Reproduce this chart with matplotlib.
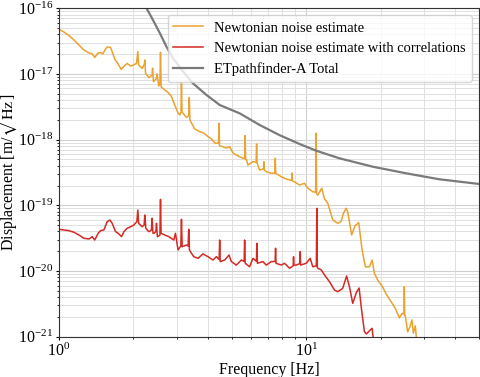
import matplotlib
matplotlib.use("Agg")
import matplotlib.pyplot as plt

plt.rcParams['font.family'] = 'serif'
plt.rcParams['font.serif'] = ['Liberation Serif', 'DejaVu Serif']
plt.rcParams['mathtext.fontset'] = 'stix'

# Newtonian noise estimate (orange): (frequency Hz, displacement m/sqrt(Hz))
nn_data = [
    (1.000, 4.74e-17), (1.047, 4.34e-17), (1.097, 3.84e-17), (1.150, 3.28e-17), (1.204, 2.75e-17),
    (1.261, 2.31e-17), (1.322, 2.08e-17), (1.359, 2.04e-17), (1.397, 1.78e-17), (1.430, 2.04e-17),
    (1.471, 2.12e-17), (1.505, 2.01e-17), (1.534, 2.31e-17), (1.567, 2.57e-17), (1.617, 2.52e-17),
    (1.641, 2.18e-17), (1.683, 1.66e-17), (1.735, 1.42e-17), (1.785, 1.17e-17), (1.830, 1.30e-17),
    (1.887, 1.44e-17), (1.948, 1.32e-17), (2.008, 1.37e-17), (2.060, 1.45e-17), (2.084, 2.18e-17),
    (2.100, 1.37e-17), (2.169, 1.21e-17), (2.215, 1.40e-17), (2.224, 1.63e-17), (2.240, 1.02e-17),
    (2.308, 8.81e-18), (2.380, 9.50e-18), (2.391, 1.22e-17), (2.410, 7.61e-18), (2.480, 8.50e-18),
    (2.493, 9.97e-18), (2.533, 6.55e-18), (2.560, 7.00e-18), (2.574, 2.12e-17), (2.590, 6.32e-18),
    (2.679, 5.69e-18), (2.762, 5.21e-18), (2.851, 4.53e-18), (2.940, 3.36e-18), (3.031, 2.54e-18),
    (3.080, 2.37e-18), (3.115, 2.60e-18), (3.129, 7.19e-18), (3.145, 2.63e-18), (3.278, 2.17e-18),
    (3.350, 2.30e-18), (3.365, 4.37e-18), (3.385, 2.00e-18), (3.427, 1.82e-18), (3.540, 1.45e-18),
    (3.709, 1.32e-18), (3.850, 1.26e-18), (4.007, 1.11e-18), (4.147, 1.02e-18), (4.264, 8.88e-19),
    (4.420, 8.80e-19), (4.438, 1.77e-18), (4.460, 8.20e-19), (4.496, 7.99e-19), (4.754, 7.45e-19),
    (4.902, 7.80e-19), (5.055, 6.25e-19), (5.217, 5.83e-19), (5.379, 5.49e-19), (5.548, 5.19e-19),
    (5.640, 5.10e-19), (5.662, 1.15e-18), (5.690, 5.00e-19), (5.741, 4.89e-19), (5.811, 4.10e-19),
    (6.087, 4.61e-19), (6.270, 4.50e-19), (6.301, 8.57e-19), (6.330, 4.40e-19), (6.479, 3.44e-19),
    (6.720, 3.60e-19), (6.743, 4.61e-19), (6.780, 3.40e-19), (6.895, 3.25e-19), (7.223, 3.07e-19),
    (7.470, 3.10e-19), (7.497, 5.19e-19), (7.530, 3.07e-19), (7.927, 2.72e-19), (8.304, 2.51e-19),
    (8.730, 2.40e-19), (8.765, 3.10e-19), (8.800, 2.35e-19), (8.930, 2.29e-19), (9.397, 2.04e-19),
    (9.845, 2.16e-19), (10.15, 1.83e-19), (10.63, 1.61e-19), (10.92, 1.58e-19), (10.97, 1.25e-18),
    (11.02, 1.50e-19), (11.14, 1.43e-19), (11.56, 1.82e-19), (11.86, 1.25e-19), (12.23, 1.07e-19),
    (12.81, 5.97e-20), (13.42, 5.32e-20), (13.84, 5.67e-20), (14.14, 7.55e-20), (14.50, 9.00e-20),
    (14.72, 7.99e-20), (15.27, 3.53e-20), (15.74, 4.84e-20), (16.31, 5.47e-20), (16.83, 2.09e-20),
    (17.36, 1.15e-20), (18.01, 1.16e-20), (18.48, 1.47e-20), (18.87, 9.23e-21), (19.46, 7.30e-21),
    (20.39, 5.71e-21), (21.04, 4.47e-21), (22.04, 3.41e-21), (22.94, 2.70e-21), (23.81, 1.93e-21),
    (24.42, 2.27e-21), (24.85, 2.20e-21), (24.94, 5.77e-21), (25.03, 2.10e-21), (25.17, 2.07e-21),
    (25.72, 1.19e-21), (26.30, 1.42e-21), (26.79, 1.80e-21), (27.12, 1.13e-21), (27.63, 1.46e-21),
    (27.96, 8.9e-22),
]

# Newtonian noise estimate with correlations (red)
nnc_data = [
    (1.000, 4.31e-20), (1.047, 4.21e-20), (1.097, 4.11e-20), (1.150, 3.88e-20), (1.204, 3.53e-20),
    (1.261, 3.15e-20), (1.322, 3.07e-20), (1.363, 3.33e-20), (1.394, 2.96e-20), (1.441, 3.75e-20),
    (1.473, 4.11e-20), (1.519, 4.21e-20), (1.567, 5.63e-20), (1.607, 5.97e-20), (1.641, 5.32e-20),
    (1.694, 3.96e-20), (1.735, 3.75e-20), (1.791, 3.33e-20), (1.830, 3.96e-20), (1.887, 4.47e-20),
    (1.948, 4.72e-20), (2.008, 5.01e-20), (2.065, 5.63e-20), (2.084, 8.48e-20), (2.100, 5.32e-20),
    (2.169, 4.72e-20), (2.210, 5.00e-20), (2.224, 7.12e-20), (2.245, 4.47e-20), (2.308, 3.96e-20),
    (2.365, 4.20e-20), (2.380, 6.34e-20), (2.400, 3.75e-20), (2.425, 3.75e-20), (2.465, 4.00e-20),
    (2.480, 5.32e-20), (2.500, 3.33e-20), (2.560, 3.50e-20), (2.574, 1.23e-19), (2.588, 3.75e-20),
    (2.679, 3.53e-20), (2.781, 3.33e-20), (2.912, 2.96e-20), (2.959, 3.75e-20), (3.031, 2.09e-20),
    (3.110, 2.40e-20), (3.129, 6.12e-20), (3.150, 2.34e-20), (3.278, 2.49e-20), (3.330, 2.40e-20),
    (3.348, 4.31e-20), (3.370, 2.10e-20), (3.402, 1.97e-20), (3.508, 1.65e-20), (3.651, 1.56e-20),
    (3.824, 1.82e-20), (4.007, 1.65e-20), (4.197, 1.47e-20), (4.332, 1.65e-20), (4.445, 1.50e-20),
    (4.467, 2.96e-20), (4.490, 1.39e-20), (4.680, 1.47e-20), (4.871, 1.75e-20), (4.981, 1.39e-20),
    (5.217, 1.23e-20), (5.466, 1.47e-20), (5.610, 1.40e-20), (5.636, 2.96e-20), (5.665, 1.31e-20),
    (5.904, 1.16e-20), (6.087, 1.56e-20), (6.290, 1.40e-20), (6.318, 2.64e-20), (6.350, 1.31e-20),
    (6.680, 1.39e-20), (6.895, 1.23e-20), (7.223, 1.39e-20), (7.490, 1.40e-20), (7.517, 2.22e-20),
    (7.550, 1.31e-20), (7.927, 1.23e-20), (8.174, 1.31e-20), (8.563, 1.10e-20), (8.860, 1.20e-20),
    (8.887, 1.65e-20), (8.920, 1.23e-20), (9.112, 1.23e-20), (9.430, 1.30e-20), (9.458, 1.97e-20),
    (9.490, 1.23e-20), (10.00, 1.31e-20), (10.38, 1.56e-20), (10.63, 1.16e-20), (10.99, 1.20e-20),
    (11.04, 9.00e-20), (11.09, 1.15e-20), (11.14, 1.10e-20), (11.50, 1.04e-20), (11.86, 8.70e-21),
    (12.42, 6.87e-21), (13.01, 5.14e-21), (13.42, 4.84e-21), (14.05, 5.45e-21), (14.57, 8.39e-21),
    (15.00, 5.51e-21), (15.42, 3.22e-21), (15.96, 4.71e-21), (16.37, 5.51e-21), (16.75, 2.55e-21),
    (17.20, 1.19e-21), (17.52, 1.10e-21), (18.13, 1.26e-21), (18.48, 1.34e-21), (18.70, 8.9e-22),
]

# ETpathfinder-A total (grey)
etp_freq = [2.20, 2.26, 2.40, 2.56, 2.72, 2.89, 3.18, 3.48, 3.95, 4.47,
            5.38, 6.48, 7.80, 9.40, 10.97, 13.63, 18.57, 25.33, 34.52, 50.07]
etp_vals = [1.2e-16, 1.0e-16, 6.6e-17, 4.15e-17, 2.6e-17, 1.73e-17, 1.08e-17, 7.19e-18, 4.78e-18, 3.36e-18,
            2.51e-18, 1.67e-18, 1.17e-18, 8.57e-19, 6.78e-19, 5.19e-19, 3.87e-19, 3.07e-19, 2.49e-19, 2.11e-19]

labels = ["Newtonian noise estimate",
          "Newtonian noise estimate with correlations",
          "ETpathfinder-A Total"]

nn_freq = [p[0] for p in nn_data]
nn_vals = [p[1] for p in nn_data]
nnc_freq = [p[0] for p in nnc_data]
nnc_vals = [p[1] for p in nnc_data]

fig = plt.figure(figsize=(4.8, 3.77), dpi=100)
ax = fig.add_axes([0.1229, 0.1069, 0.875, 0.8714])

ax.loglog(nn_freq, nn_vals, color='#eba22e', lw=1.1, label=labels[0])
ax.loglog(nnc_freq, nnc_vals, color='#d42a24', lw=1.1, label=labels[1])
ax.loglog(etp_freq, etp_vals, color='#7a7a7a', lw=1.6, label=labels[2])

ax.set_xlim(1, 50)
ax.set_ylim(1e-21, 1e-16)
ax.grid(True, which='major', color='#d0d0d0', lw=0.8)
ax.grid(True, which='minor', color='#e0e0e0', lw=0.7)
ax.set_axisbelow(True)

ax.set_xlabel('Frequency [Hz]', fontsize=11.5)
ax.set_ylabel(r'Displacement [m/$\sqrt{\mathrm{Hz}}$]', fontsize=11.5)
ax.xaxis.set_label_coords(0.5, -0.078)
ax.yaxis.set_label_coords(-0.092, 0.5)
ax.tick_params(axis='both', which='major', labelsize=11.5, length=2.5, pad=1.5)
ax.tick_params(axis='both', which='minor', length=1.5)
for s in ax.spines.values():
    s.set_color('#333333')

ax.legend(loc='upper right', fontsize=10.5, framealpha=0.8)

fig.savefig('out.png', dpi=100)
